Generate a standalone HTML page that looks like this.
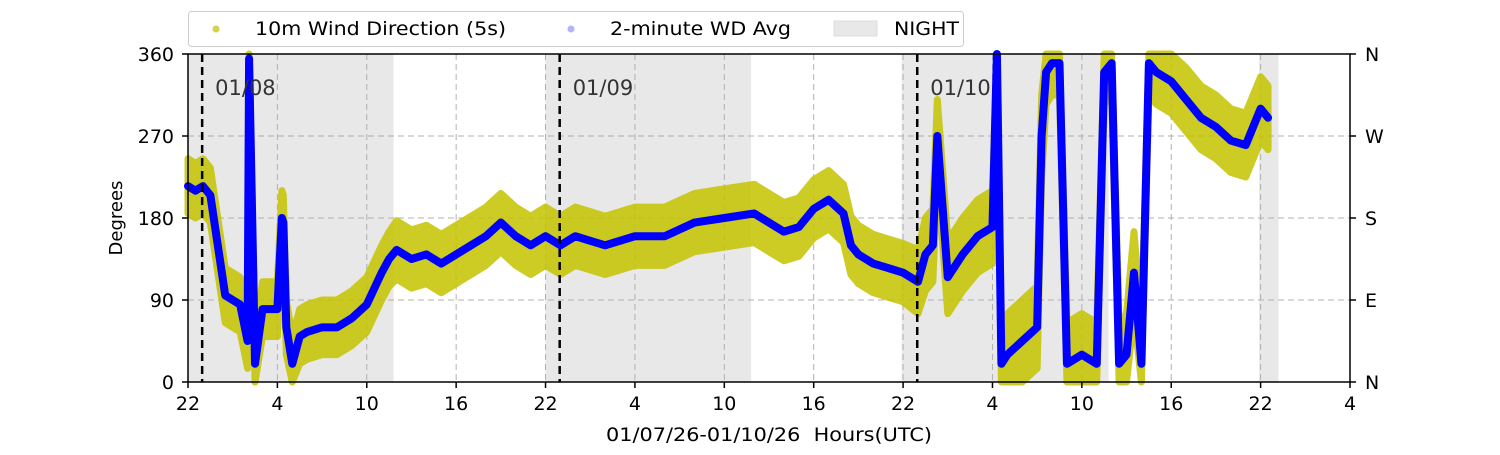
<!DOCTYPE html>
<html><head><meta charset="utf-8"><style>
body{margin:0;background:#fff;}
svg text{font-family:"DejaVu Sans","Liberation Sans",sans-serif;}
</style></head><body>
<svg id="chart" width="1500" height="450" viewBox="0 0 1500 450" xmlns="http://www.w3.org/2000/svg">
<g id="night"></g>
<g id="grid"></g>
<g id="yellow"></g>
<g id="blue"></g>
<g id="mid"></g>
<g id="axes"></g>
<rect x="188" y="54" width="1162" height="328" fill="none" stroke="#000" stroke-width="1.5"/>
<text x="122" y="218" transform="rotate(-90 122 218)" text-anchor="middle" font-size="18">Degrees</text>
<text x="606" y="441" font-size="19" textLength="326" lengthAdjust="spacingAndGlyphs">01/07/26-01/10/26&#160; Hours(UTC)</text>
<g>
<rect x="188.5" y="11.5" width="775" height="35" rx="3" fill="#fff" stroke="#ccc"/>
<circle cx="216" cy="29" r="3.5" fill="#bfbf00" opacity="0.7"/>
<text x="255" y="35" font-size="19" textLength="251" lengthAdjust="spacingAndGlyphs">10m Wind Direction (5s)</text>
<circle cx="571" cy="29" r="3.5" fill="#0000ff" opacity="0.3"/>
<text x="610" y="35" font-size="19" textLength="181" lengthAdjust="spacingAndGlyphs">2-minute WD Avg</text>
<rect x="834" y="21" width="43" height="15" fill="#e8e8e8" stroke="#ddd"/>
<text x="894" y="35" font-size="19" textLength="65" lengthAdjust="spacingAndGlyphs">NIGHT</text>
</g>
</svg>
<script>
const hours=[0,0.5,1,1.5,2,2.5,3,3.5,4,4.1,4.5,5,5.5,6,6.3,6.4,6.6,7,7.5,8,9,10,11,12,13,13.5,14,15,16,17,18,19,20,21,22,23,24,25,26,27,28,30,32,34,36,38,40,41,42,43,44,44.5,45,46,47,48,49,49.5,50,50.3,51,52,53,54,54.3,54.6,55,56,57,57.3,57.6,58,58.5,59,60,61,61.5,62,62.5,63,63.5,64,64.5,65,66,67,68,69,70,71,72,72.5];
const avgDeg=[215,210,215,205,150,95,90,85,45,355,20,80,80,80,180,175,60,20,50,55,60,60,70,85,120,135,145,135,140,130,140,150,160,175,160,150,160,150,160,155,150,160,160,175,180,185,165,170,190,200,185,150,140,130,125,120,110,140,150,270,115,140,160,170,360,20,30,45,60,270,340,350,350,20,30,20,340,350,20,30,120,20,350,340,330,310,290,280,265,260,300,290];
const spreadDeg=[30,30,30,30,30,30,30,30,30,30,30,30,30,30,30,30,30,30,30,30,30,30,30,30,30,30,32,32,32,32,32,32,32,32,32,32,32,32,32,32,32,32,32,32,32,32,32,32,32,32,32,32,32,32,32,32,35,40,40,40,40,40,40,40,35,45,45,45,45,45,35,35,35,45,45,45,35,35,45,45,45,45,35,35,35,35,35,35,35,35,35,35];
const nightStart=[0,24,47.9,71.9];
const nightEnd=[13.8,37.8,61.8,73.2];
const midnights=[0.95,24.95,48.95];
const dayLabels=["01/08","01/09","01/10"];
const xTickLabels=["22","4","10","16","22","4","10","16","22","4","10","16","22","4"];
const yTicks=[0,90,180,270,360];
const yRightLabels=["N","E","S","W","N"];
const NS="http://www.w3.org/2000/svg";
const X=h=>188+h*(1162/78);
const Y=d=>382-d*(328/360);
function mk(tag,attrs,parent){const e=document.createElementNS(NS,tag);for(const k in attrs)e.setAttribute(k,attrs[k]);document.getElementById(parent).appendChild(e);return e;}
for(let i=0;i<nightStart.length;i++){
 const r=mk('rect',{x:X(nightStart[i]),y:54,width:X(nightEnd[i])-X(nightStart[i]),height:328,fill:'#e8e8e8'},'night');
 
 
}
for(let i=0;i<xTickLabels.length;i++){
 const x=X(i*6);
 if(i>0&&i<13){const g=mk('line',{x1:x,x2:x,y1:54,y2:382,stroke:'#b0b0b0','stroke-dasharray':'6,4','stroke-width':1},'grid');
 
 }
 const t=mk('line',{x1:x,x2:x,y1:382,y2:388,stroke:'#000','stroke-width':1.5},'axes');
 
 
 const l=mk('text',{x:x,y:410,'text-anchor':'middle','font-size':19},'axes');l.textContent=xTickLabels[i];
 
 
}
for(let i=0;i<yTicks.length;i++){
 const y=Y(yTicks[i]);
 if(i>0&&i<4){const g=mk('line',{x1:188,x2:1350,y1:y,y2:y,stroke:'#b0b0b0','stroke-dasharray':'6,4','stroke-width':1},'grid');
 
 }
 mk('line',{x1:182,x2:188,y1:y,y2:y,stroke:'#000','stroke-width':1.5},'axes');
 mk('line',{x1:1350,x2:1356,y1:y,y2:y,stroke:'#000','stroke-width':1.5},'axes');
 const l=mk('text',{x:174,y:y+7,'text-anchor':'end','font-size':19},'axes');l.textContent=yTicks[i];
 
 
 const r=mk('text',{x:1365,y:y+7,'font-size':19},'axes');r.textContent=yRightLabels[i];
 
 
}
const clamp=v=>Math.max(0,Math.min(360,v));
const idx=hours.map((_,i)=>i);
const up=idx.map(i=>X(hours[i])+','+Y(clamp(avgDeg[i]+spreadDeg[i])));
const lo=idx.slice().reverse().map(i=>X(hours[i])+','+Y(clamp(avgDeg[i]-spreadDeg[i])));
const p=mk('polygon',{points:up.concat(lo).join(' '),fill:'#c4c400',stroke:'#c4c400','stroke-width':7,'stroke-linejoin':'round',opacity:0.85},'yellow');


const b=mk('polyline',{points:idx.map(i=>X(hours[i])+','+Y(avgDeg[i])).join(' '),fill:'none',stroke:'#0000ff','stroke-width':8,'stroke-linejoin':'round','stroke-linecap':'round'},'blue');


midnights.forEach((m,i)=>{
 const l=mk('line',{x1:X(m),x2:X(m),y1:54,y2:382,stroke:'#000','stroke-width':2.5,'stroke-dasharray':'8,5'},'mid');
 
 
 const t=mk('text',{x:X(m)+13,y:95,'font-size':21,fill:'#333'},'mid');t.textContent=dayLabels[i];
 
 
});
</script>
</body></html>
